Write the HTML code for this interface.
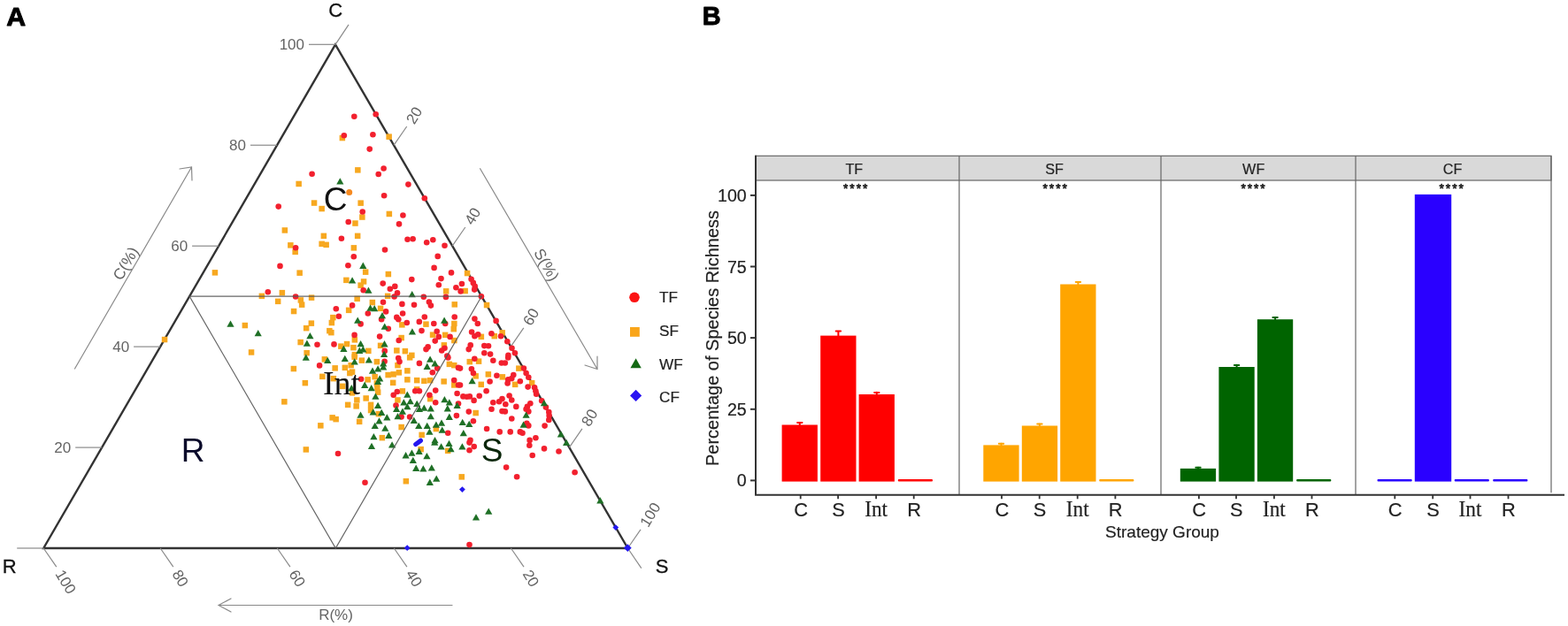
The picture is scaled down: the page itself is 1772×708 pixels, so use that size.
<!DOCTYPE html>
<html lang="en"><head><meta charset="utf-8"><title>CSR strategies</title>
<style>
html,body{margin:0;padding:0;background:#fff;}
body{width:1772px;height:708px;overflow:hidden;}
svg{display:block;}
</style></head>
<body>
<svg width="1772" height="708" viewBox="0 0 1772 708">
<rect width="1772" height="708" fill="#fff"/>
<text x="7.2" y="28.9" style="font-family:'Liberation Sans',sans-serif;font-weight:bold;font-size:29.6px" fill="#000" stroke="#000" stroke-width="0.9" stroke-linejoin="round" textLength="21.9" lengthAdjust="spacingAndGlyphs">A</text>
<text x="793.8" y="28.3" style="font-family:'Liberation Sans',sans-serif;font-weight:bold;font-size:29.6px" fill="#000" stroke="#000" stroke-width="0.9" stroke-linejoin="round" textLength="20.9" lengthAdjust="spacingAndGlyphs">B</text>
<path d="M379 50.3 L49.2 620 L709.4 620 Z" fill="none" stroke="#333" stroke-width="2.4" stroke-linejoin="miter"/>
<g stroke="#8a8a8a" stroke-width="1.2" fill="none">
<line x1="379" y1="50.3" x2="394" y2="27.799999999999997"/>
<line x1="49.2" y1="620" x2="19.200000000000003" y2="620"/>
<line x1="709.4" y1="620" x2="724.8" y2="642.6"/>
<line x1="115.2" y1="506.1" x2="85.2" y2="506.1"/>
<line x1="445.1" y1="164.2" x2="459.7" y2="143.0"/>
<line x1="577.4" y1="620.0" x2="592.0" y2="641.2"/>
<line x1="181.1" y1="392.1" x2="151.1" y2="392.1"/>
<line x1="511.2" y1="278.2" x2="525.8" y2="257.0"/>
<line x1="445.3" y1="620.0" x2="459.9" y2="641.2"/>
<line x1="247.1" y1="278.2" x2="217.1" y2="278.2"/>
<line x1="577.2" y1="392.1" x2="591.8" y2="370.9"/>
<line x1="313.3" y1="620.0" x2="327.9" y2="641.2"/>
<line x1="313.0" y1="164.2" x2="283.0" y2="164.2"/>
<line x1="643.3" y1="506.1" x2="657.9" y2="484.9"/>
<line x1="181.2" y1="620.0" x2="195.8" y2="641.2"/>
<line x1="379.0" y1="50.3" x2="349.0" y2="50.3"/>
<line x1="709.4" y1="620.0" x2="724.0" y2="598.8"/>
<line x1="49.2" y1="620.0" x2="63.8" y2="641.2"/>
</g>
<text x="80.2" y="512.1" text-anchor="end" style="font-family:'Liberation Sans',sans-serif;font-size:17px" fill="#646464">20</text>
<text transform="translate(463.0 138.4) rotate(-59)" x="0" y="6" text-anchor="start" style="font-family:'Liberation Sans',sans-serif;font-size:17px" fill="#646464">20</text>
<text transform="translate(595.3 645.8) rotate(59)" x="0" y="6" text-anchor="start" style="font-family:'Liberation Sans',sans-serif;font-size:17px" fill="#646464">20</text>
<text x="146.1" y="398.1" text-anchor="end" style="font-family:'Liberation Sans',sans-serif;font-size:17px" fill="#646464">40</text>
<text transform="translate(529.1 252.4) rotate(-59)" x="0" y="6" text-anchor="start" style="font-family:'Liberation Sans',sans-serif;font-size:17px" fill="#646464">40</text>
<text transform="translate(463.2 645.8) rotate(59)" x="0" y="6" text-anchor="start" style="font-family:'Liberation Sans',sans-serif;font-size:17px" fill="#646464">40</text>
<text x="212.1" y="284.2" text-anchor="end" style="font-family:'Liberation Sans',sans-serif;font-size:17px" fill="#646464">60</text>
<text transform="translate(595.1 366.3) rotate(-59)" x="0" y="6" text-anchor="start" style="font-family:'Liberation Sans',sans-serif;font-size:17px" fill="#646464">60</text>
<text transform="translate(331.2 645.8) rotate(59)" x="0" y="6" text-anchor="start" style="font-family:'Liberation Sans',sans-serif;font-size:17px" fill="#646464">60</text>
<text x="278.0" y="170.2" text-anchor="end" style="font-family:'Liberation Sans',sans-serif;font-size:17px" fill="#646464">80</text>
<text transform="translate(661.2 480.3) rotate(-59)" x="0" y="6" text-anchor="start" style="font-family:'Liberation Sans',sans-serif;font-size:17px" fill="#646464">80</text>
<text transform="translate(199.1 645.8) rotate(59)" x="0" y="6" text-anchor="start" style="font-family:'Liberation Sans',sans-serif;font-size:17px" fill="#646464">80</text>
<text x="344.0" y="56.3" text-anchor="end" style="font-family:'Liberation Sans',sans-serif;font-size:17px" fill="#646464">100</text>
<text transform="translate(727.3 594.2) rotate(-59)" x="0" y="6" text-anchor="start" style="font-family:'Liberation Sans',sans-serif;font-size:17px" fill="#646464">100</text>
<text transform="translate(67.1 645.8) rotate(59)" x="0" y="6" text-anchor="start" style="font-family:'Liberation Sans',sans-serif;font-size:17px" fill="#646464">100</text>
<g fill="#f7a820">
<rect x="383.6" y="152.8" width="6.5" height="6.5"/>
<rect x="436.4" y="151.4" width="6.5" height="6.5"/>
<rect x="401.1" y="189.1" width="6.5" height="6.5"/>
<rect x="334.4" y="204.7" width="6.5" height="6.5"/>
<rect x="351.8" y="226.3" width="6.5" height="6.5"/>
<rect x="360.4" y="232.8" width="6.5" height="6.5"/>
<rect x="404.4" y="226.4" width="6.5" height="6.5"/>
<rect x="406.1" y="242.3" width="6.5" height="6.5"/>
<rect x="436.6" y="238.7" width="6.5" height="6.5"/>
<rect x="398.2" y="249.3" width="6.5" height="6.5"/>
<rect x="318.6" y="257.2" width="6.5" height="6.5"/>
<rect x="362.6" y="263.6" width="6.5" height="6.5"/>
<rect x="360.4" y="272.6" width="6.5" height="6.5"/>
<rect x="365.4" y="273.6" width="6.5" height="6.5"/>
<rect x="400.9" y="263.6" width="6.5" height="6.5"/>
<rect x="325.1" y="274.1" width="6.5" height="6.5"/>
<rect x="330.4" y="281.6" width="6.5" height="6.5"/>
<rect x="396.6" y="277.1" width="6.5" height="6.5"/>
<rect x="239.7" y="305.1" width="6.5" height="6.5"/>
<rect x="335.4" y="305.4" width="6.5" height="6.5"/>
<rect x="409.9" y="304.4" width="6.5" height="6.5"/>
<rect x="435.6" y="306.8" width="6.5" height="6.5"/>
<rect x="388.1" y="313.6" width="6.5" height="6.5"/>
<rect x="407.8" y="315.2" width="6.5" height="6.5"/>
<rect x="404.4" y="319.4" width="6.5" height="6.5"/>
<rect x="315.6" y="327.9" width="6.5" height="6.5"/>
<rect x="292.6" y="331.6" width="6.5" height="6.5"/>
<rect x="348.8" y="333.4" width="6.5" height="6.5"/>
<rect x="310.9" y="337.6" width="6.5" height="6.5"/>
<rect x="336.6" y="336.2" width="6.5" height="6.5"/>
<rect x="337.9" y="341.4" width="6.5" height="6.5"/>
<rect x="400.4" y="334.6" width="6.5" height="6.5"/>
<rect x="434.9" y="331.6" width="6.5" height="6.5"/>
<rect x="417.6" y="338.8" width="6.5" height="6.5"/>
<rect x="328.8" y="348.8" width="6.5" height="6.5"/>
<rect x="390.9" y="347.6" width="6.5" height="6.5"/>
<rect x="426.8" y="345.6" width="6.5" height="6.5"/>
<rect x="373.1" y="355.9" width="6.5" height="6.5"/>
<rect x="371.6" y="361.8" width="6.5" height="6.5"/>
<rect x="348.6" y="362.4" width="6.5" height="6.5"/>
<rect x="342.9" y="367.9" width="6.5" height="6.5"/>
<rect x="273.6" y="364.8" width="6.5" height="6.5"/>
<rect x="369.1" y="370.9" width="6.5" height="6.5"/>
<rect x="371.1" y="372.9" width="6.5" height="6.5"/>
<rect x="451.1" y="364.1" width="6.5" height="6.5"/>
<rect x="450.4" y="378.8" width="6.5" height="6.5"/>
<rect x="336.4" y="383.8" width="6.5" height="6.5"/>
<rect x="397.6" y="381.1" width="6.5" height="6.5"/>
<rect x="388.8" y="385.8" width="6.5" height="6.5"/>
<rect x="382.1" y="388.4" width="6.5" height="6.5"/>
<rect x="396.2" y="389.9" width="6.5" height="6.5"/>
<rect x="426.8" y="387.6" width="6.5" height="6.5"/>
<rect x="413.1" y="393.6" width="6.5" height="6.5"/>
<rect x="280.8" y="395.2" width="6.5" height="6.5"/>
<rect x="343.4" y="395.9" width="6.5" height="6.5"/>
<rect x="445.1" y="393.2" width="6.5" height="6.5"/>
<rect x="454.6" y="393.9" width="6.5" height="6.5"/>
<rect x="397.6" y="397.9" width="6.5" height="6.5"/>
<rect x="462.1" y="398.6" width="6.5" height="6.5"/>
<rect x="524.8" y="305.8" width="6.5" height="6.5"/>
<rect x="500.9" y="326.1" width="6.5" height="6.5"/>
<rect x="522.4" y="325.8" width="6.5" height="6.5"/>
<rect x="510.5" y="341.1" width="6.5" height="6.5"/>
<rect x="546.8" y="341.8" width="6.5" height="6.5"/>
<rect x="478.2" y="363.4" width="6.5" height="6.5"/>
<rect x="510.1" y="362.8" width="6.5" height="6.5"/>
<rect x="509.5" y="368.9" width="6.5" height="6.5"/>
<rect x="485.8" y="375.4" width="6.5" height="6.5"/>
<rect x="499.9" y="375.6" width="6.5" height="6.5"/>
<rect x="540.6" y="377.6" width="6.5" height="6.5"/>
<rect x="555.5" y="376.9" width="6.5" height="6.5"/>
<rect x="564.4" y="373.1" width="6.5" height="6.5"/>
<rect x="510.1" y="381.8" width="6.5" height="6.5"/>
<rect x="498.6" y="387.1" width="6.5" height="6.5"/>
<rect x="328.6" y="413.8" width="6.5" height="6.5"/>
<rect x="341.6" y="429.9" width="6.5" height="6.5"/>
<rect x="318.1" y="451.1" width="6.5" height="6.5"/>
<rect x="359.1" y="478.1" width="6.5" height="6.5"/>
<rect x="372.4" y="469.1" width="6.5" height="6.5"/>
<rect x="376.4" y="470.9" width="6.5" height="6.5"/>
<rect x="363.6" y="403.1" width="6.5" height="6.5"/>
<rect x="375.4" y="413.1" width="6.5" height="6.5"/>
<rect x="361.1" y="422.6" width="6.5" height="6.5"/>
<rect x="373.6" y="424.9" width="6.5" height="6.5"/>
<rect x="386.6" y="412.6" width="6.5" height="6.5"/>
<rect x="393.4" y="409.9" width="6.5" height="6.5"/>
<rect x="394.8" y="417.4" width="6.5" height="6.5"/>
<rect x="405.6" y="404.4" width="6.5" height="6.5"/>
<rect x="397.4" y="400.4" width="6.5" height="6.5"/>
<rect x="422.6" y="405.9" width="6.5" height="6.5"/>
<rect x="412.4" y="426.1" width="6.5" height="6.5"/>
<rect x="420.4" y="422.9" width="6.5" height="6.5"/>
<rect x="423.1" y="435.1" width="6.5" height="6.5"/>
<rect x="383.9" y="433.6" width="6.5" height="6.5"/>
<rect x="394.8" y="441.1" width="6.5" height="6.5"/>
<rect x="400.1" y="449.2" width="6.5" height="6.5"/>
<rect x="389.9" y="454.6" width="6.5" height="6.5"/>
<rect x="399.4" y="456.1" width="6.5" height="6.5"/>
<rect x="410.4" y="447.2" width="6.5" height="6.5"/>
<rect x="415.8" y="454.6" width="6.5" height="6.5"/>
<rect x="415.8" y="460.8" width="6.5" height="6.5"/>
<rect x="402.9" y="473.6" width="6.5" height="6.5"/>
<rect x="424.6" y="464.9" width="6.5" height="6.5"/>
<rect x="435.4" y="420.8" width="6.5" height="6.5"/>
<rect x="441.4" y="420.1" width="6.5" height="6.5"/>
<rect x="447.6" y="418.1" width="6.5" height="6.5"/>
<rect x="446.2" y="409.9" width="6.5" height="6.5"/>
<rect x="457.1" y="416.1" width="6.5" height="6.5"/>
<rect x="457.1" y="426.1" width="6.5" height="6.5"/>
<rect x="440.9" y="429.6" width="6.5" height="6.5"/>
<rect x="467.9" y="426.9" width="6.5" height="6.5"/>
<rect x="476.1" y="427.6" width="6.5" height="6.5"/>
<rect x="482.9" y="426.9" width="6.5" height="6.5"/>
<rect x="459.9" y="401.1" width="6.5" height="6.5"/>
<rect x="451.6" y="439.1" width="6.5" height="6.5"/>
<rect x="446.2" y="449.2" width="6.5" height="6.5"/>
<rect x="498.4" y="428.2" width="6.5" height="6.5"/>
<rect x="504.6" y="408.6" width="6.5" height="6.5"/>
<rect x="510.0" y="409.9" width="6.5" height="6.5"/>
<rect x="510.0" y="432.2" width="6.5" height="6.5"/>
<rect x="482.9" y="447.9" width="6.5" height="6.5"/>
<rect x="450.4" y="479.8" width="6.5" height="6.5"/>
<rect x="489.6" y="481.8" width="6.5" height="6.5"/>
<rect x="473.4" y="488.6" width="6.5" height="6.5"/>
<rect x="428.6" y="491.9" width="6.5" height="6.5"/>
<rect x="467.9" y="437.1" width="6.5" height="6.5"/>
<rect x="422.6" y="430.2" width="6.5" height="6.5"/>
<rect x="423.9" y="440.4" width="6.5" height="6.5"/>
<rect x="392.1" y="418.8" width="6.5" height="6.5"/>
<rect x="527.5" y="405.9" width="6.5" height="6.5"/>
<rect x="537.8" y="405.4" width="6.5" height="6.5"/>
<rect x="583.1" y="413.4" width="6.5" height="6.5"/>
<rect x="548.6" y="420.1" width="6.5" height="6.5"/>
<rect x="534.4" y="422.1" width="6.5" height="6.5"/>
<rect x="564.6" y="423.1" width="6.5" height="6.5"/>
<rect x="540.5" y="431.6" width="6.5" height="6.5"/>
<rect x="578.9" y="431.6" width="6.5" height="6.5"/>
<rect x="597.9" y="429.9" width="6.5" height="6.5"/>
<rect x="534.4" y="463.8" width="6.5" height="6.5"/>
<rect x="342.6" y="505.2" width="6.5" height="6.5"/>
<rect x="472.4" y="504.9" width="6.5" height="6.5"/>
<rect x="502.9" y="506.6" width="6.5" height="6.5"/>
<rect x="455.6" y="541.0" width="6.5" height="6.5"/>
<rect x="518.5" y="536.1" width="6.5" height="6.5"/>
<rect x="182.8" y="380.8" width="6.5" height="6.5"/>
</g>
<g fill="#f68a20">
<circle cx="394.7" cy="217.5" r="3.5"/>
</g>
<g fill="#f2202e">
<circle cx="400.3" cy="131.7" r="3.3"/>
<circle cx="424.7" cy="129.2" r="3.3"/>
<circle cx="388.8" cy="153.2" r="3.3"/>
<circle cx="421.4" cy="152.3" r="3.3"/>
<circle cx="417.7" cy="168.6" r="3.3"/>
<circle cx="433.6" cy="190.5" r="3.3"/>
<circle cx="427.7" cy="197.0" r="3.3"/>
<circle cx="352.6" cy="196.8" r="3.3"/>
<circle cx="461.4" cy="208.6" r="3.3"/>
<circle cx="314.7" cy="233.6" r="3.3"/>
<circle cx="434.1" cy="221.2" r="3.3"/>
<circle cx="409.7" cy="239.5" r="3.3"/>
<circle cx="455.4" cy="243.5" r="3.3"/>
<circle cx="451.0" cy="253.4" r="3.3"/>
<circle cx="393.7" cy="251.0" r="3.3"/>
<circle cx="385.9" cy="269.7" r="3.3"/>
<circle cx="460.5" cy="270.7" r="3.3"/>
<circle cx="466.6" cy="270.3" r="3.3"/>
<circle cx="334.1" cy="280.2" r="3.3"/>
<circle cx="435.0" cy="282.5" r="3.3"/>
<circle cx="399.8" cy="290.3" r="3.3"/>
<circle cx="316.5" cy="300.9" r="3.3"/>
<circle cx="393.4" cy="300.2" r="3.3"/>
<circle cx="479.8" cy="224.2" r="3.3"/>
<circle cx="482.2" cy="274.3" r="3.3"/>
<circle cx="489.3" cy="271.3" r="3.3"/>
<circle cx="502.5" cy="277.8" r="3.3"/>
<circle cx="494.7" cy="289.9" r="3.3"/>
<circle cx="490.6" cy="302.9" r="3.3"/>
<circle cx="302.8" cy="330.3" r="3.3"/>
<circle cx="334.1" cy="335.5" r="3.3"/>
<circle cx="465.3" cy="316.1" r="3.3"/>
<circle cx="432.7" cy="320.6" r="3.3"/>
<circle cx="446.3" cy="323.9" r="3.3"/>
<circle cx="440.8" cy="326.7" r="3.3"/>
<circle cx="410.7" cy="328.3" r="3.3"/>
<circle cx="449.0" cy="331.4" r="3.3"/>
<circle cx="445.6" cy="335.5" r="3.3"/>
<circle cx="433.0" cy="341.8" r="3.3"/>
<circle cx="454.4" cy="343.9" r="3.3"/>
<circle cx="468.0" cy="344.7" r="3.3"/>
<circle cx="398.1" cy="345.4" r="3.3"/>
<circle cx="379.8" cy="349.3" r="3.3"/>
<circle cx="436.1" cy="352.4" r="3.3"/>
<circle cx="415.8" cy="354.5" r="3.3"/>
<circle cx="455.1" cy="354.5" r="3.3"/>
<circle cx="382.9" cy="357.8" r="3.3"/>
<circle cx="448.3" cy="358.9" r="3.3"/>
<circle cx="450.3" cy="361.2" r="3.3"/>
<circle cx="431.1" cy="361.2" r="3.3"/>
<circle cx="459.8" cy="365.0" r="3.3"/>
<circle cx="407.6" cy="366.4" r="3.3"/>
<circle cx="438.8" cy="371.8" r="3.3"/>
<circle cx="400.6" cy="378.9" r="3.3"/>
<circle cx="429.1" cy="380.6" r="3.3"/>
<circle cx="450.7" cy="385.0" r="3.3"/>
<circle cx="358.5" cy="389.7" r="3.3"/>
<circle cx="377.5" cy="389.4" r="3.3"/>
<circle cx="434.7" cy="396.9" r="3.3"/>
<circle cx="510.0" cy="308.4" r="3.3"/>
<circle cx="498.5" cy="315.1" r="3.3"/>
<circle cx="495.8" cy="322.2" r="3.3"/>
<circle cx="521.9" cy="321.0" r="3.3"/>
<circle cx="515.4" cy="325.3" r="3.3"/>
<circle cx="520.6" cy="329.4" r="3.3"/>
<circle cx="532.6" cy="315.8" r="3.3"/>
<circle cx="534.8" cy="319.9" r="3.3"/>
<circle cx="536.7" cy="323.9" r="3.3"/>
<circle cx="536.2" cy="327.6" r="3.3"/>
<circle cx="543.9" cy="335.2" r="3.3"/>
<circle cx="478.8" cy="335.7" r="3.3"/>
<circle cx="503.9" cy="335.9" r="3.3"/>
<circle cx="484.9" cy="341.6" r="3.3"/>
<circle cx="486.9" cy="345.6" r="3.3"/>
<circle cx="479.8" cy="358.5" r="3.3"/>
<circle cx="513.7" cy="358.5" r="3.3"/>
<circle cx="473.8" cy="363.9" r="3.3"/>
<circle cx="503.2" cy="366.0" r="3.3"/>
<circle cx="490.3" cy="366.0" r="3.3"/>
<circle cx="536.4" cy="360.6" r="3.3"/>
<circle cx="539.8" cy="366.0" r="3.3"/>
<circle cx="560.6" cy="362.9" r="3.3"/>
<circle cx="476.5" cy="374.1" r="3.3"/>
<circle cx="493.7" cy="374.8" r="3.3"/>
<circle cx="533.1" cy="375.5" r="3.3"/>
<circle cx="536.4" cy="380.2" r="3.3"/>
<circle cx="540.2" cy="378.2" r="3.3"/>
<circle cx="555.4" cy="377.2" r="3.3"/>
<circle cx="566.0" cy="380.2" r="3.3"/>
<circle cx="495.8" cy="380.9" r="3.3"/>
<circle cx="508.6" cy="380.9" r="3.3"/>
<circle cx="491.7" cy="385.6" r="3.3"/>
<circle cx="573.3" cy="386.3" r="3.3"/>
<circle cx="531.7" cy="390.4" r="3.3"/>
<circle cx="529.7" cy="395.1" r="3.3"/>
<circle cx="547.3" cy="391.1" r="3.3"/>
<circle cx="552.0" cy="391.3" r="3.3"/>
<circle cx="483.6" cy="392.4" r="3.3"/>
<circle cx="481.5" cy="395.1" r="3.3"/>
<circle cx="502.5" cy="393.8" r="3.3"/>
<circle cx="578.5" cy="393.8" r="3.3"/>
<circle cx="581.9" cy="399.2" r="3.3"/>
<circle cx="547.3" cy="399.2" r="3.3"/>
<circle cx="554.1" cy="400.6" r="3.3"/>
<circle cx="499.2" cy="396.5" r="3.3"/>
<circle cx="505.3" cy="402.6" r="3.3"/>
<circle cx="574.4" cy="401.9" r="3.3"/>
<circle cx="361.1" cy="413.4" r="3.3"/>
<circle cx="434.6" cy="408.7" r="3.3"/>
<circle cx="450.2" cy="405.0" r="3.3"/>
<circle cx="451.5" cy="409.1" r="3.3"/>
<circle cx="473.9" cy="410.9" r="3.3"/>
<circle cx="506.4" cy="404.4" r="3.3"/>
<circle cx="488.8" cy="421.3" r="3.3"/>
<circle cx="494.2" cy="416.6" r="3.3"/>
<circle cx="518.0" cy="415.9" r="3.3"/>
<circle cx="408.1" cy="428.8" r="3.3"/>
<circle cx="513.2" cy="430.1" r="3.3"/>
<circle cx="518.0" cy="435.5" r="3.3"/>
<circle cx="444.7" cy="446.7" r="3.3"/>
<circle cx="448.8" cy="443.0" r="3.3"/>
<circle cx="469.2" cy="442.3" r="3.3"/>
<circle cx="473.9" cy="442.3" r="3.3"/>
<circle cx="492.2" cy="441.6" r="3.3"/>
<circle cx="485.4" cy="446.7" r="3.3"/>
<circle cx="516.6" cy="445.0" r="3.3"/>
<circle cx="492.2" cy="455.2" r="3.3"/>
<circle cx="447.5" cy="458.6" r="3.3"/>
<circle cx="518.0" cy="456.6" r="3.3"/>
<circle cx="453.6" cy="471.5" r="3.3"/>
<circle cx="463.1" cy="471.5" r="3.3"/>
<circle cx="515.9" cy="470.1" r="3.3"/>
<circle cx="506.2" cy="489.8" r="3.3"/>
<circle cx="536.3" cy="405.7" r="3.3"/>
<circle cx="557.3" cy="407.7" r="3.3"/>
<circle cx="566.8" cy="410.5" r="3.3"/>
<circle cx="570.8" cy="410.5" r="3.3"/>
<circle cx="574.2" cy="404.4" r="3.3"/>
<circle cx="532.9" cy="417.2" r="3.3"/>
<circle cx="534.9" cy="422.0" r="3.3"/>
<circle cx="520.0" cy="416.6" r="3.3"/>
<circle cx="561.4" cy="424.7" r="3.3"/>
<circle cx="553.6" cy="431.5" r="3.3"/>
<circle cx="580.3" cy="424.0" r="3.3"/>
<circle cx="578.3" cy="428.1" r="3.3"/>
<circle cx="574.2" cy="429.4" r="3.3"/>
<circle cx="573.6" cy="433.5" r="3.3"/>
<circle cx="587.8" cy="431.2" r="3.3"/>
<circle cx="591.9" cy="416.6" r="3.3"/>
<circle cx="594.6" cy="422.0" r="3.3"/>
<circle cx="597.3" cy="426.7" r="3.3"/>
<circle cx="596.6" cy="437.6" r="3.3"/>
<circle cx="520.0" cy="435.5" r="3.3"/>
<circle cx="549.6" cy="442.3" r="3.3"/>
<circle cx="604.1" cy="438.3" r="3.3"/>
<circle cx="605.4" cy="442.3" r="3.3"/>
<circle cx="606.1" cy="445.7" r="3.3"/>
<circle cx="541.7" cy="447.7" r="3.3"/>
<circle cx="523.4" cy="448.4" r="3.3"/>
<circle cx="527.5" cy="448.8" r="3.3"/>
<circle cx="530.8" cy="448.4" r="3.3"/>
<circle cx="535.6" cy="452.9" r="3.3"/>
<circle cx="575.6" cy="447.5" r="3.3"/>
<circle cx="578.3" cy="452.5" r="3.3"/>
<circle cx="567.5" cy="451.1" r="3.3"/>
<circle cx="564.1" cy="454.3" r="3.3"/>
<circle cx="557.3" cy="455.2" r="3.3"/>
<circle cx="571.3" cy="457.2" r="3.3"/>
<circle cx="599.3" cy="456.2" r="3.3"/>
<circle cx="595.9" cy="459.9" r="3.3"/>
<circle cx="594.6" cy="462.7" r="3.3"/>
<circle cx="583.3" cy="459.9" r="3.3"/>
<circle cx="555.5" cy="462.7" r="3.3"/>
<circle cx="567.5" cy="465.1" r="3.3"/>
<circle cx="570.8" cy="465.4" r="3.3"/>
<circle cx="597.3" cy="465.4" r="3.3"/>
<circle cx="529.8" cy="465.6" r="3.3"/>
<circle cx="578.3" cy="473.5" r="3.3"/>
<circle cx="534.9" cy="476.2" r="3.3"/>
<circle cx="612.2" cy="453.2" r="3.3"/>
<circle cx="616.9" cy="460.6" r="3.3"/>
<circle cx="620.3" cy="466.1" r="3.3"/>
<circle cx="620.6" cy="470.1" r="3.3"/>
<circle cx="620.3" cy="474.9" r="3.3"/>
<circle cx="615.6" cy="481.6" r="3.3"/>
<circle cx="597.3" cy="481.4" r="3.3"/>
<circle cx="595.3" cy="478.9" r="3.3"/>
<circle cx="550.1" cy="485.0" r="3.3"/>
<circle cx="564.7" cy="488.4" r="3.3"/>
<circle cx="576.7" cy="488.4" r="3.3"/>
<circle cx="587.8" cy="488.4" r="3.3"/>
<circle cx="590.5" cy="489.8" r="3.3"/>
<circle cx="605.4" cy="495.2" r="3.3"/>
<circle cx="598.6" cy="497.9" r="3.3"/>
<circle cx="531.5" cy="497.9" r="3.3"/>
<circle cx="382.0" cy="513.0" r="3.3"/>
<circle cx="412.5" cy="545.8" r="3.3"/>
<circle cx="530.5" cy="500.6" r="3.3"/>
<circle cx="535.7" cy="505.1" r="3.3"/>
<circle cx="530.5" cy="509.2" r="3.3"/>
<circle cx="598.3" cy="503.7" r="3.3"/>
<circle cx="615.0" cy="507.4" r="3.3"/>
<circle cx="631.5" cy="510.5" r="3.3"/>
<circle cx="601.7" cy="515.0" r="3.3"/>
<circle cx="572.1" cy="528.6" r="3.3"/>
<circle cx="584.1" cy="539.3" r="3.3"/>
<circle cx="649.6" cy="534.3" r="3.3"/>
<circle cx="530.5" cy="616.1" r="3.3"/>
</g>
<g fill="#1f7026">
<path d="M384.3 201.3l4.1 7.3h-8.2z"/>
<path d="M410.3 296.6l4.1 7.3h-8.2z"/>
<path d="M398.1 313.3l4.1 7.3h-8.2z"/>
<path d="M416.4 324.5l4.1 7.3h-8.2z"/>
<path d="M465.7 328.9l4.1 7.3h-8.2z"/>
<path d="M418.5 344.5l4.1 7.3h-8.2z"/>
<path d="M423.2 344.9l4.1 7.3h-8.2z"/>
<path d="M432.0 353.0l4.1 7.3h-8.2z"/>
<path d="M404.2 358.4l4.1 7.3h-8.2z"/>
<path d="M260.5 362.5l4.1 7.3h-8.2z"/>
<path d="M434.7 365.5l4.1 7.3h-8.2z"/>
<path d="M291.7 372.9l4.1 7.3h-8.2z"/>
<path d="M465.9 371.2l4.1 7.3h-8.2z"/>
<path d="M350.4 376.0l4.1 7.3h-8.2z"/>
<path d="M346.9 384.5l4.1 7.3h-8.2z"/>
<path d="M407.6 384.9l4.1 7.3h-8.2z"/>
<path d="M434.5 385.1l4.1 7.3h-8.2z"/>
<path d="M388.4 390.6l4.1 7.3h-8.2z"/>
<path d="M406.3 392.6l4.1 7.3h-8.2z"/>
<path d="M410.3 391.2l4.1 7.3h-8.2z"/>
<path d="M434.1 396.7l4.1 7.3h-8.2z"/>
<path d="M502.1 358.4l4.1 7.3h-8.2z"/>
<path d="M345.8 400.5l4.1 7.3h-8.2z"/>
<path d="M370.2 403.8l4.1 7.3h-8.2z"/>
<path d="M389.8 401.8l4.1 7.3h-8.2z"/>
<path d="M400.7 405.2l4.1 7.3h-8.2z"/>
<path d="M416.9 403.2l4.1 7.3h-8.2z"/>
<path d="M433.2 407.2l4.1 7.3h-8.2z"/>
<path d="M421.0 415.4l4.1 7.3h-8.2z"/>
<path d="M427.1 413.3l4.1 7.3h-8.2z"/>
<path d="M433.2 411.3l4.1 7.3h-8.2z"/>
<path d="M429.2 424.2l4.1 7.3h-8.2z"/>
<path d="M427.1 427.6l4.1 7.3h-8.2z"/>
<path d="M412.2 431.6l4.1 7.3h-8.2z"/>
<path d="M419.7 435.0l4.1 7.3h-8.2z"/>
<path d="M397.3 435.0l4.1 7.3h-8.2z"/>
<path d="M424.4 444.5l4.1 7.3h-8.2z"/>
<path d="M427.1 454.7l4.1 7.3h-8.2z"/>
<path d="M421.7 462.2l4.1 7.3h-8.2z"/>
<path d="M431.2 462.8l4.1 7.3h-8.2z"/>
<path d="M407.5 465.5l4.1 7.3h-8.2z"/>
<path d="M437.3 468.3l4.1 7.3h-8.2z"/>
<path d="M428.5 472.3l4.1 7.3h-8.2z"/>
<path d="M423.7 477.7l4.1 7.3h-8.2z"/>
<path d="M435.3 480.5l4.1 7.3h-8.2z"/>
<path d="M422.4 489.9l4.1 7.3h-8.2z"/>
<path d="M439.3 488.6l4.1 7.3h-8.2z"/>
<path d="M486.1 402.5l4.1 7.3h-8.2z"/>
<path d="M482.7 410.6l4.1 7.3h-8.2z"/>
<path d="M491.5 407.2l4.1 7.3h-8.2z"/>
<path d="M460.3 442.5l4.1 7.3h-8.2z"/>
<path d="M456.3 451.3l4.1 7.3h-8.2z"/>
<path d="M463.7 449.9l4.1 7.3h-8.2z"/>
<path d="M448.1 458.8l4.1 7.3h-8.2z"/>
<path d="M454.9 461.5l4.1 7.3h-8.2z"/>
<path d="M460.3 456.0l4.1 7.3h-8.2z"/>
<path d="M471.2 452.7l4.1 7.3h-8.2z"/>
<path d="M473.9 458.8l4.1 7.3h-8.2z"/>
<path d="M479.3 457.4l4.1 7.3h-8.2z"/>
<path d="M486.8 458.1l4.1 7.3h-8.2z"/>
<path d="M449.5 466.9l4.1 7.3h-8.2z"/>
<path d="M467.8 471.6l4.1 7.3h-8.2z"/>
<path d="M486.8 466.9l4.1 7.3h-8.2z"/>
<path d="M473.2 477.7l4.1 7.3h-8.2z"/>
<path d="M482.7 477.7l4.1 7.3h-8.2z"/>
<path d="M485.4 484.5l4.1 7.3h-8.2z"/>
<path d="M492.9 476.4l4.1 7.3h-8.2z"/>
<path d="M499.0 474.4l4.1 7.3h-8.2z"/>
<path d="M499.7 482.5l4.1 7.3h-8.2z"/>
<path d="M507.8 467.6l4.1 7.3h-8.2z"/>
<path d="M505.8 458.1l4.1 7.3h-8.2z"/>
<path d="M502.4 447.9l4.1 7.3h-8.2z"/>
<path d="M507.8 451.3l4.1 7.3h-8.2z"/>
<path d="M516.6 454.7l4.1 7.3h-8.2z"/>
<path d="M491.5 494.0l4.1 7.3h-8.2z"/>
<path d="M533.6 426.9l4.1 7.3h-8.2z"/>
<path d="M614.9 452.0l4.1 7.3h-8.2z"/>
<path d="M594.6 465.5l4.1 7.3h-8.2z"/>
<path d="M522.7 473.7l4.1 7.3h-8.2z"/>
<path d="M530.2 475.7l4.1 7.3h-8.2z"/>
<path d="M591.6 476.4l4.1 7.3h-8.2z"/>
<path d="M523.8 485.9l4.1 7.3h-8.2z"/>
<path d="M633.9 487.2l4.1 7.3h-8.2z"/>
<path d="M420.0 500.8l4.1 7.3h-8.2z"/>
<path d="M443.1 499.2l4.1 7.3h-8.2z"/>
<path d="M491.2 496.5l4.1 7.3h-8.2z"/>
<path d="M498.6 501.2l4.1 7.3h-8.2z"/>
<path d="M507.5 497.8l4.1 7.3h-8.2z"/>
<path d="M509.5 503.9l4.1 7.3h-8.2z"/>
<path d="M522.4 501.2l4.1 7.3h-8.2z"/>
<path d="M458.6 511.1l4.1 7.3h-8.2z"/>
<path d="M465.4 508.4l4.1 7.3h-8.2z"/>
<path d="M473.6 506.6l4.1 7.3h-8.2z"/>
<path d="M482.4 512.0l4.1 7.3h-8.2z"/>
<path d="M466.8 516.8l4.1 7.3h-8.2z"/>
<path d="M470.2 525.6l4.1 7.3h-8.2z"/>
<path d="M478.3 526.3l4.1 7.3h-8.2z"/>
<path d="M487.8 525.2l4.1 7.3h-8.2z"/>
<path d="M493.2 537.4l4.1 7.3h-8.2z"/>
<path d="M485.8 541.6l4.1 7.3h-8.2z"/>
<path d="M538.0 581.2l4.1 7.3h-8.2z"/>
<path d="M640.1 496.7l4.1 7.3h-8.2z"/>
<path d="M678.3 562.2l4.1 7.3h-8.2z"/>
<path d="M552.2 574.4l4.1 7.3h-8.2z"/>
</g>
<g fill="#2418f0">
<path d="M522.4 550.2l3.4 3.4l-3.4 3.4l-3.4 -3.4z"/>
<path d="M460.2 616.3l3.4 3.4l-3.4 3.4l-3.4 -3.4z"/>
<path d="M695.8 593.2l3.4 3.4l-3.4 3.4l-3.4 -3.4z"/>
</g>
<g fill="#2418f0">
<path d="M469.8 502.5L475.4 498.3" stroke="#2418f0" stroke-width="5.2" stroke-linecap="round" fill="none"/>
</g>
<g fill="#2418f0">
<path d="M709.3 615.3l4.4 4.4l-4.4 4.4l-4.4 -4.4z"/>
</g>
<g stroke="#555" stroke-width="1.2" stroke-opacity="0.9" fill="none">
<path d="M214.1 335.1 L544.2 335.2 L379.3 620.0 Z"/>
</g>
<g stroke="#8a8a8a" stroke-width="1.2" fill="none" stroke-linecap="round">
<path d="M84.5 417 L216.5 189 M203 191 L216.5 189 L217 204"/>
<path d="M542.6 190.7 L675 417.5 M675 403 L675 417.5 L661 413"/>
<path d="M511 684.5 L247 684.5 M261 677 L247 684.5 L261 692"/>
</g>
<text transform="translate(142 298) rotate(-60)" x="0" y="5.9" text-anchor="middle" style="font-family:'Liberation Sans',sans-serif;font-size:17.5px" fill="#646464">C(%)</text>
<text transform="translate(617.6 299.4) rotate(60)" x="0" y="5.9" text-anchor="middle" style="font-family:'Liberation Sans',sans-serif;font-size:17.5px" fill="#646464">S(%)</text>
<text x="379.5" y="701.2" text-anchor="middle" style="font-family:'Liberation Sans',sans-serif;font-size:17px" fill="#646464">R(%)</text>
<text x="379.3" y="19.3" text-anchor="middle" style="font-family:'Liberation Sans',sans-serif;font-size:22px" fill="#111" stroke="#111" stroke-width="0.3">C</text>
<text x="10.6" y="648.3" text-anchor="middle" style="font-family:'Liberation Sans',sans-serif;font-size:22px" fill="#111" stroke="#111" stroke-width="0.3">R</text>
<text x="748.2" y="648.3" text-anchor="middle" style="font-family:'Liberation Sans',sans-serif;font-size:22px" fill="#111" stroke="#111" stroke-width="0.3">S</text>
<text x="379" y="238" text-anchor="middle" style="font-family:'Liberation Sans',sans-serif;font-size:37px" fill="#111">C</text>
<text x="386" y="446" text-anchor="middle" style="font-family:'Liberation Serif',serif;font-size:38px" fill="#111">Int</text>
<text x="218" y="522" text-anchor="middle" style="font-family:'Liberation Sans',sans-serif;font-size:37px" fill="#0a0a2a">R</text>
<text x="556" y="522" text-anchor="middle" style="font-family:'Liberation Sans',sans-serif;font-size:37px" fill="#0a260a">S</text>
<circle cx="717" cy="336.3" r="5.8" fill="#fb1414"/>
<rect x="712" y="370" width="10.8" height="10.8" fill="#f9a51a"/>
<path d="M718.6 405.2 L724.8 416.2 L712.4 416.2 Z" fill="#156a15"/>
<path d="M718.6 440.8 L725.2 447.4 L718.6 454 L712 447.4 Z" fill="#2a14f2"/>
<text x="745" y="342.3" style="font-family:'Liberation Sans',sans-serif;font-size:17.2px" fill="#222" stroke="#222" stroke-width="0.2">TF</text>
<text x="745" y="380" style="font-family:'Liberation Sans',sans-serif;font-size:17.2px" fill="#222" stroke="#222" stroke-width="0.2">SF</text>
<text x="745" y="417.5" style="font-family:'Liberation Sans',sans-serif;font-size:17.2px" fill="#222" stroke="#222" stroke-width="0.2">WF</text>
<text x="745" y="455" style="font-family:'Liberation Sans',sans-serif;font-size:17.2px" fill="#222" stroke="#222" stroke-width="0.2">CF</text>
<rect x="854" y="176.3" width="899" height="27.69999999999999" fill="#d9d9d9"/>
<g stroke="#666" stroke-width="1.2" fill="none">
<rect x="854" y="176.3" width="899" height="27.69999999999999"/>
<line x1="1084" y1="176.3" x2="1084" y2="559.7"/>
<line x1="1312" y1="176.3" x2="1312" y2="559.7"/>
<line x1="1532" y1="176.3" x2="1532" y2="559.7"/>
<line x1="1753" y1="176.3" x2="1753" y2="557.2"/>
</g>
<g stroke="#333" stroke-width="2" fill="none">
<path d="M854 175.70000000000002 L854 559.7 L1768 559.7"/>
<line x1="848" y1="543.4" x2="854" y2="543.4"/>
<line x1="848" y1="462.8" x2="854" y2="462.8"/>
<line x1="848" y1="382.1" x2="854" y2="382.1"/>
<line x1="848" y1="301.5" x2="854" y2="301.5"/>
<line x1="848" y1="220.9" x2="854" y2="220.9"/>
</g>
<text x="843.7" y="550.4" text-anchor="end" style="font-family:'Liberation Sans',sans-serif;font-size:19.6px" fill="#222" stroke="#222" stroke-width="0.18">0</text>
<text x="843.7" y="469.8" text-anchor="end" style="font-family:'Liberation Sans',sans-serif;font-size:19.6px" fill="#222" stroke="#222" stroke-width="0.18">25</text>
<text x="843.7" y="389.1" text-anchor="end" style="font-family:'Liberation Sans',sans-serif;font-size:19.6px" fill="#222" stroke="#222" stroke-width="0.18">50</text>
<text x="843.7" y="308.5" text-anchor="end" style="font-family:'Liberation Sans',sans-serif;font-size:19.6px" fill="#222" stroke="#222" stroke-width="0.18">75</text>
<text x="843.7" y="227.9" text-anchor="end" style="font-family:'Liberation Sans',sans-serif;font-size:19.6px" fill="#222" stroke="#222" stroke-width="0.18">100</text>
<text x="965.3" y="197.3" text-anchor="middle" style="font-family:'Liberation Sans',sans-serif;font-size:16.2px" fill="#222" stroke="#222" stroke-width="0.18">TF</text>
<text x="953.0" y="217.9" style="font-family:'Liberation Sans',sans-serif;font-size:13.8px;letter-spacing:1.95px" fill="#222" stroke="#222" stroke-width="0.7" stroke-linejoin="round">****</text>
<rect x="883.6" y="480.5" width="40.3" height="64.1" fill="#ff0000"/>
<path d="M903.8 480.5 L903.8 477.9 M901.1 478.1 L906.5 478.1" stroke="#ff0000" stroke-width="2" stroke-linecap="round" fill="none"/>
<line x1="904.7" y1="559.7" x2="904.7" y2="564.3000000000001" stroke="#333" stroke-width="1.8"/>
<text x="905.0" y="584.3" text-anchor="middle" style="font-family:'Liberation Sans',sans-serif;font-size:21.8px" fill="#222" stroke="#222" stroke-width="0.18">C</text>
<rect x="927.2" y="379.6" width="40.3" height="165.0" fill="#ff0000"/>
<path d="M947.4 379.6 L947.4 374.4 M944.7 374.6 L950.1 374.6" stroke="#ff0000" stroke-width="2" stroke-linecap="round" fill="none"/>
<line x1="947.1" y1="559.7" x2="947.1" y2="564.3000000000001" stroke="#333" stroke-width="1.8"/>
<text x="947.4" y="584.3" text-anchor="middle" style="font-family:'Liberation Sans',sans-serif;font-size:21.8px" fill="#222" stroke="#222" stroke-width="0.18">S</text>
<rect x="970.6" y="446.0" width="40.3" height="98.6" fill="#ff0000"/>
<path d="M990.8 446.0 L990.8 443.7 M988.1 443.9 L993.5 443.9" stroke="#ff0000" stroke-width="2" stroke-linecap="round" fill="none"/>
<line x1="990.1" y1="559.7" x2="990.1" y2="564.3000000000001" stroke="#333" stroke-width="1.8"/>
<text x="990.1" y="584.3" text-anchor="middle" style="font-family:'Liberation Serif',serif;font-size:24.5px" fill="#222" stroke="#222" stroke-width="0.2" textLength="25.8" lengthAdjust="spacingAndGlyphs">Int</text>
<rect x="1014.8" y="542.1" width="39.2" height="2.3" rx="1" fill="#ff0000"/>
<line x1="1032.7" y1="559.7" x2="1032.7" y2="564.3000000000001" stroke="#333" stroke-width="1.8"/>
<text x="1033.0" y="584.3" text-anchor="middle" style="font-family:'Liberation Sans',sans-serif;font-size:21.8px" fill="#222" stroke="#222" stroke-width="0.18">R</text>
<text x="1191.6" y="197.3" text-anchor="middle" style="font-family:'Liberation Sans',sans-serif;font-size:16.2px" fill="#222" stroke="#222" stroke-width="0.18">SF</text>
<text x="1178.5" y="217.9" style="font-family:'Liberation Sans',sans-serif;font-size:13.8px;letter-spacing:1.95px" fill="#222" stroke="#222" stroke-width="0.7" stroke-linejoin="round">****</text>
<rect x="1111.3" y="503.4" width="40.3" height="41.2" fill="#ffa500"/>
<path d="M1131.5 503.4 L1131.5 501.5 M1128.8 501.7 L1134.2 501.7" stroke="#ffa500" stroke-width="2" stroke-linecap="round" fill="none"/>
<line x1="1132.0" y1="559.7" x2="1132.0" y2="564.3000000000001" stroke="#333" stroke-width="1.8"/>
<text x="1132.3" y="584.3" text-anchor="middle" style="font-family:'Liberation Sans',sans-serif;font-size:21.8px" fill="#222" stroke="#222" stroke-width="0.18">C</text>
<rect x="1154.8" y="481.5" width="40.3" height="63.1" fill="#ffa500"/>
<path d="M1174.9 481.5 L1174.9 479.2 M1172.2 479.4 L1177.6 479.4" stroke="#ffa500" stroke-width="2" stroke-linecap="round" fill="none"/>
<line x1="1174.7" y1="559.7" x2="1174.7" y2="564.3000000000001" stroke="#333" stroke-width="1.8"/>
<text x="1175.0" y="584.3" text-anchor="middle" style="font-family:'Liberation Sans',sans-serif;font-size:21.8px" fill="#222" stroke="#222" stroke-width="0.18">S</text>
<rect x="1198.2" y="321.5" width="40.3" height="223.1" fill="#ffa500"/>
<path d="M1218.4 321.5 L1218.4 318.9 M1215.7 319.1 L1221.1 319.1" stroke="#ffa500" stroke-width="2" stroke-linecap="round" fill="none"/>
<line x1="1217.7" y1="559.7" x2="1217.7" y2="564.3000000000001" stroke="#333" stroke-width="1.8"/>
<text x="1217.7" y="584.3" text-anchor="middle" style="font-family:'Liberation Serif',serif;font-size:24.5px" fill="#222" stroke="#222" stroke-width="0.2" textLength="25.8" lengthAdjust="spacingAndGlyphs">Int</text>
<rect x="1242.2" y="542.1" width="39.2" height="2.3" rx="1" fill="#ffa500"/>
<line x1="1260.4" y1="559.7" x2="1260.4" y2="564.3000000000001" stroke="#333" stroke-width="1.8"/>
<text x="1260.7" y="584.3" text-anchor="middle" style="font-family:'Liberation Sans',sans-serif;font-size:21.8px" fill="#222" stroke="#222" stroke-width="0.18">R</text>
<text x="1416.7" y="197.3" text-anchor="middle" style="font-family:'Liberation Sans',sans-serif;font-size:16.2px" fill="#222" stroke="#222" stroke-width="0.18">WF</text>
<text x="1402.4" y="217.9" style="font-family:'Liberation Sans',sans-serif;font-size:13.8px;letter-spacing:1.95px" fill="#222" stroke="#222" stroke-width="0.7" stroke-linejoin="round">****</text>
<rect x="1333.8" y="529.9" width="40.3" height="14.7" fill="#006400"/>
<path d="M1354.0 529.9 L1354.0 528.6 M1351.3 528.8 L1356.7 528.8" stroke="#006400" stroke-width="2" stroke-linecap="round" fill="none"/>
<line x1="1354.9" y1="559.7" x2="1354.9" y2="564.3000000000001" stroke="#333" stroke-width="1.8"/>
<text x="1355.2" y="584.3" text-anchor="middle" style="font-family:'Liberation Sans',sans-serif;font-size:21.8px" fill="#222" stroke="#222" stroke-width="0.18">C</text>
<rect x="1377.4" y="415.0" width="40.3" height="129.6" fill="#006400"/>
<path d="M1397.6 415.0 L1397.6 412.8 M1394.9 413.0 L1400.3 413.0" stroke="#006400" stroke-width="2" stroke-linecap="round" fill="none"/>
<line x1="1397.0" y1="559.7" x2="1397.0" y2="564.3000000000001" stroke="#333" stroke-width="1.8"/>
<text x="1397.3" y="584.3" text-anchor="middle" style="font-family:'Liberation Sans',sans-serif;font-size:21.8px" fill="#222" stroke="#222" stroke-width="0.18">S</text>
<rect x="1420.9" y="361.2" width="40.3" height="183.4" fill="#006400"/>
<path d="M1441.1 361.2 L1441.1 358.9 M1438.4 359.1 L1443.8 359.1" stroke="#006400" stroke-width="2" stroke-linecap="round" fill="none"/>
<line x1="1439.9" y1="559.7" x2="1439.9" y2="564.3000000000001" stroke="#333" stroke-width="1.8"/>
<text x="1439.9" y="584.3" text-anchor="middle" style="font-family:'Liberation Serif',serif;font-size:24.5px" fill="#222" stroke="#222" stroke-width="0.2" textLength="25.8" lengthAdjust="spacingAndGlyphs">Int</text>
<rect x="1465.1" y="542.1" width="39.2" height="2.3" rx="1" fill="#006400"/>
<line x1="1482.5" y1="559.7" x2="1482.5" y2="564.3000000000001" stroke="#333" stroke-width="1.8"/>
<text x="1482.8" y="584.3" text-anchor="middle" style="font-family:'Liberation Sans',sans-serif;font-size:21.8px" fill="#222" stroke="#222" stroke-width="0.18">R</text>
<text x="1641.5" y="197.3" text-anchor="middle" style="font-family:'Liberation Sans',sans-serif;font-size:16.2px" fill="#222" stroke="#222" stroke-width="0.18">CF</text>
<text x="1626.5" y="217.9" style="font-family:'Liberation Sans',sans-serif;font-size:13.8px;letter-spacing:1.95px" fill="#222" stroke="#222" stroke-width="0.7" stroke-linejoin="round">****</text>
<rect x="1556.5" y="542.1" width="39.2" height="2.3" rx="1" fill="#2a00ff"/>
<line x1="1576.3" y1="559.7" x2="1576.3" y2="564.3000000000001" stroke="#333" stroke-width="1.8"/>
<text x="1576.6" y="584.3" text-anchor="middle" style="font-family:'Liberation Sans',sans-serif;font-size:21.8px" fill="#222" stroke="#222" stroke-width="0.18">C</text>
<rect x="1598.8" y="219.9" width="41.4" height="324.7" fill="#2a00ff"/>
<line x1="1619.2" y1="559.7" x2="1619.2" y2="564.3000000000001" stroke="#333" stroke-width="1.8"/>
<text x="1619.5" y="584.3" text-anchor="middle" style="font-family:'Liberation Sans',sans-serif;font-size:21.8px" fill="#222" stroke="#222" stroke-width="0.18">S</text>
<rect x="1643.7" y="542.1" width="39.2" height="2.3" rx="1" fill="#2a00ff"/>
<line x1="1661.5" y1="559.7" x2="1661.5" y2="564.3000000000001" stroke="#333" stroke-width="1.8"/>
<text x="1661.5" y="584.3" text-anchor="middle" style="font-family:'Liberation Serif',serif;font-size:24.5px" fill="#222" stroke="#222" stroke-width="0.2" textLength="25.8" lengthAdjust="spacingAndGlyphs">Int</text>
<rect x="1687.2" y="542.1" width="39.2" height="2.3" rx="1" fill="#2a00ff"/>
<line x1="1704.5" y1="559.7" x2="1704.5" y2="564.3000000000001" stroke="#333" stroke-width="1.8"/>
<text x="1704.8" y="584.3" text-anchor="middle" style="font-family:'Liberation Sans',sans-serif;font-size:21.8px" fill="#222" stroke="#222" stroke-width="0.18">R</text>
<text x="1313.5" y="608.4" text-anchor="middle" style="font-family:'Liberation Sans',sans-serif;font-size:19px" fill="#222" stroke="#222" stroke-width="0.18">Strategy Group</text>
<text transform="translate(812.3 382.5) rotate(-90)" x="0" y="0" text-anchor="middle" style="font-family:'Liberation Sans',sans-serif;font-size:20px" fill="#222" stroke="#222" stroke-width="0.18">Percentage of Species Richness</text>
</svg>
</body></html>
